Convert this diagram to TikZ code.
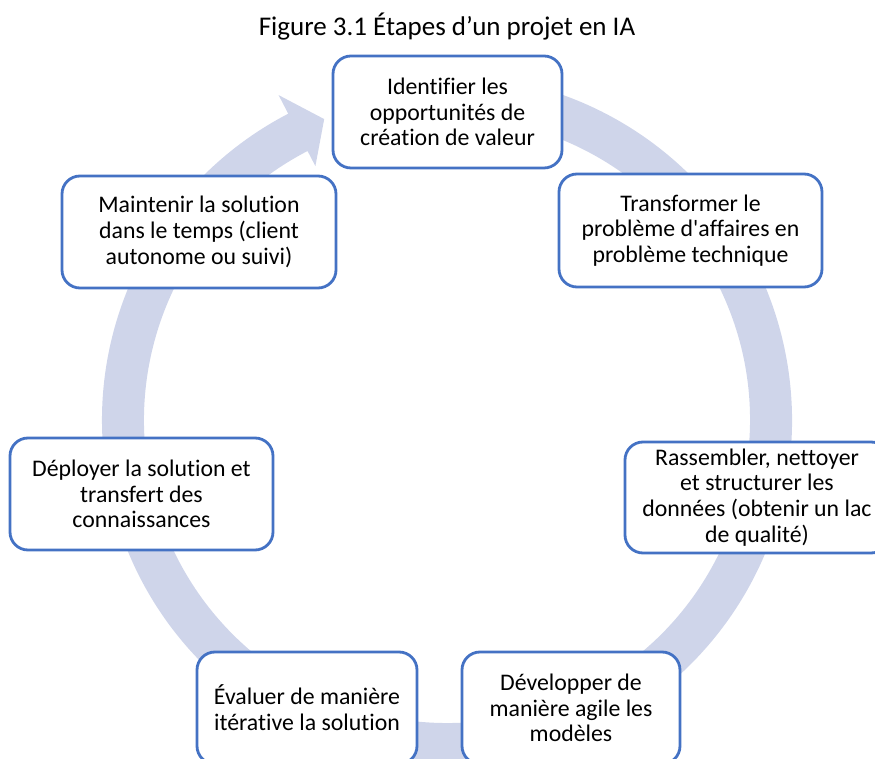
\documentclass[tikz,border=0pt]{standalone}
\usepackage{fontspec}
\setmainfont[Ligatures={NoCommon,TeXOff}]{Carlito}
\usepackage{xcolor}
\usetikzlibrary{shapes,arrows,positioning}

\definecolor{cadre}{RGB}{68,114,196}
\definecolor{anneau}{RGB}{207,213,234}

\begin{document}
\begin{tikzpicture}[
    x=1pt, y=1pt,
    etape/.style={rectangle, draw=cadre, line width=2.8pt, fill=white, rounded corners=18pt, minimum height=112pt, inner sep=0pt, align=center, font=\fontsize{23.8}{25.8}\selectfont},
    titre/.style={font=\fontsize{27}{30}\selectfont, anchor=base}
]
    \useasboundingbox (-447,-339) rectangle (428,420);

    % cycle arrow behind the boxes
    \fill[anneau] (100:345) arc[start angle=100, end angle=-242.6, radius=345]
        -- (-242.6:366) -- (-247.8:325) -- (-242.6:286) -- (-242.6:303)
        arc[start angle=-242.6, end angle=100, radius=303] -- cycle;

    \node[titre] (titre) at (0,384) {Figure 3.1 Étapes d’un projet en IA};

    \node[etape, minimum width=229pt] (identifier) at (0.5,308) {Identifier les\\opportunités de\\création de valeur};
    \node[etape, minimum width=263pt, minimum height=113pt] (transformer) at (243.5,189.5) {Transformer le\\problème d'affaires en\\problème technique};
    \node[etape, minimum width=264pt, minimum height=111pt] (rassembler) at (310,-77.5) {Rassembler, nettoyer\\et structurer les\\données (obtenir un lac\\de qualité)};
    \node[etape, minimum width=218pt] (developper) at (124,-288) {Développer de\\manière agile les\\modèles};
    \node[etape, minimum width=220pt] (evaluer) at (-140,-288) {Évaluer de manière\\itérative la solution};
    \node[etape, minimum width=263pt] (deployer) at (-305.5,-74) {Déployer la solution et\\transfert des\\connaissances};
    \node[etape, minimum width=274pt] (maintenir) at (-248,188) {Maintenir la solution\\dans le temps (client\\autonome ou suivi)};
\end{tikzpicture}
\end{document}
